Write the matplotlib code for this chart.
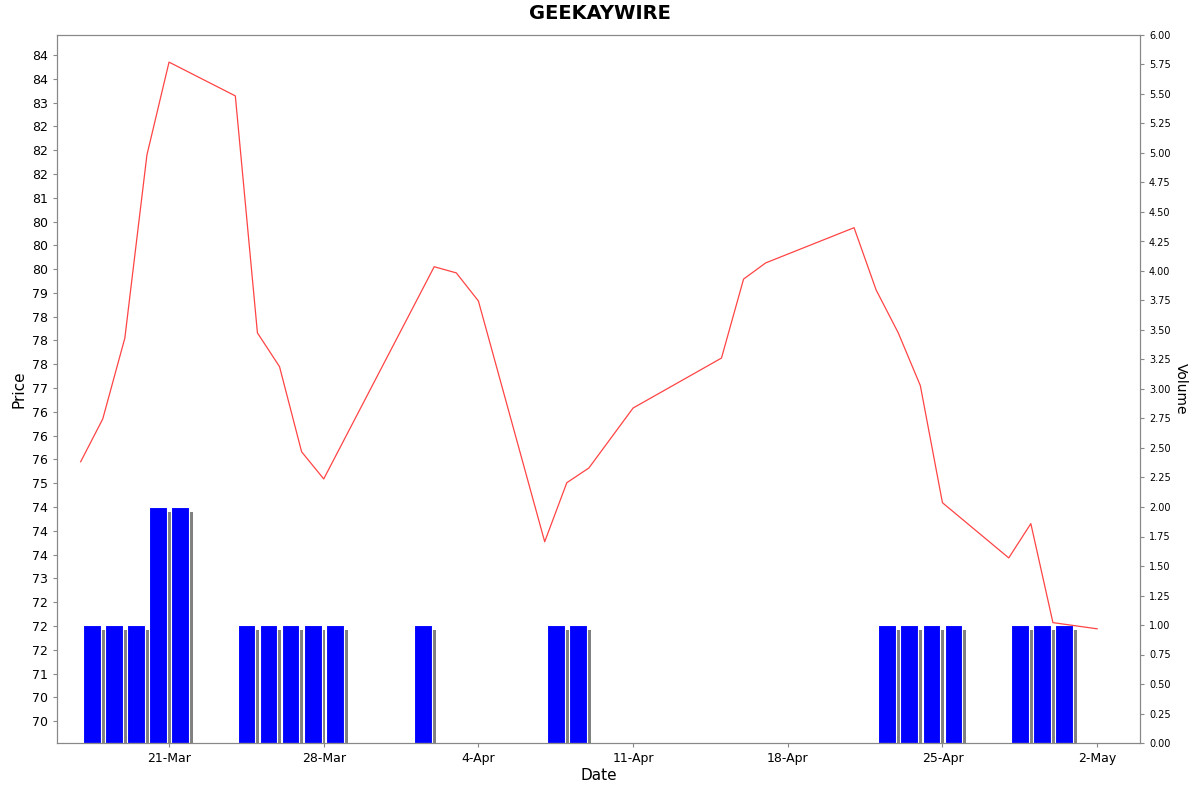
import matplotlib
matplotlib.use("Agg")
import matplotlib.pyplot as plt
import matplotlib.ticker as mt
import datetime as dt
import matplotlib.dates as mdates

base = dt.date(2024, 3, 21)

# price series: day offset from 21-Mar, price
price_days = [-4, -3, -2, -1, 0, 3, 4, 5, 6, 7, 12, 13, 14, 17, 18, 19, 21,
              25, 26, 27, 31, 32, 33, 34, 35, 38, 39, 40, 42]
prices = [75.45, 76.35, 78.05, 81.9, 83.85, 83.14, 78.16, 77.45, 75.66, 75.09,
          79.55, 79.42, 78.83, 73.77, 75.01, 75.32, 76.58, 77.63, 79.29, 79.63,
          80.37, 79.06, 78.16, 77.05, 74.59, 73.43, 74.15, 72.07, 71.94]

vol_days = [-4, -3, -2, -1, 0, 3, 4, 5, 6, 7, 11, 17, 18, 32, 33, 34, 35, 38, 39, 40]
volumes = [1, 1, 1, 2, 2, 1, 1, 1, 1, 1, 1, 1, 1, 1, 1, 1, 1, 1, 1, 1]

b0 = mdates.date2num(base)

def d(n):
    return b0 + n

fig = plt.figure(figsize=(12, 7.92), dpi=100)
ax = fig.add_axes([57/1200, 1-743/792, (1140-57)/1200, (743-35)/792])
ax2 = ax.twinx()

# volume bars (with grey shadow)
vx = [d(n) + 0.1 for n in vol_days]
ax2.bar([x + 0.18 for x in vx], [v - 0.04 for v in volumes], width=0.8, align='edge',
        color='#808080', zorder=1)
ax2.bar(vx, volumes, width=0.8, align='edge', color='#0000ff',
        edgecolor='white', linewidth=0.8, zorder=2)
ax2.set_ylim(0, 6)
ax2.yaxis.set_major_locator(mt.MultipleLocator(0.25))
ax2.yaxis.set_major_formatter(mt.FormatStrFormatter('%.2f'))
ax2.tick_params(axis='y', labelsize=7, length=3, color='#888888')
ax2.set_ylabel('Volume', rotation=270, labelpad=12, fontsize=10)

ax.set_zorder(ax2.get_zorder() + 1)
ax.patch.set_visible(False)
ax.plot([d(n) for n in price_days], prices, color='#ff4444', linewidth=0.9)
ax.set_ylim(69.54, 84.42)
ax.yaxis.set_major_locator(mt.MultipleLocator(0.5))
ax.yaxis.set_major_formatter(mt.FuncFormatter(lambda v, p: '%d' % round(v)))
ax.tick_params(axis='y', labelsize=9, length=3, color='#888888')
ax.set_xlim(d(-5.07), d(43.94))
ax.set_xticks([d(n) for n in range(0, 43, 7)])
ax.xaxis.set_major_formatter(mdates.DateFormatter('%-d-%b'))
ax.tick_params(axis='x', labelsize=9, length=3, color='#888888')
ax.set_ylabel('Price', fontsize=11)
ax.set_xlabel('Date', fontsize=11, labelpad=2)
for a in (ax, ax2):
    for s in a.spines.values():
        s.set_color('#888888')
        s.set_linewidth(0.8)

fig.suptitle('GEEKAYWIRE', fontsize=14, fontweight='bold', y=0.995)
plt.savefig('out.png', dpi=100)
